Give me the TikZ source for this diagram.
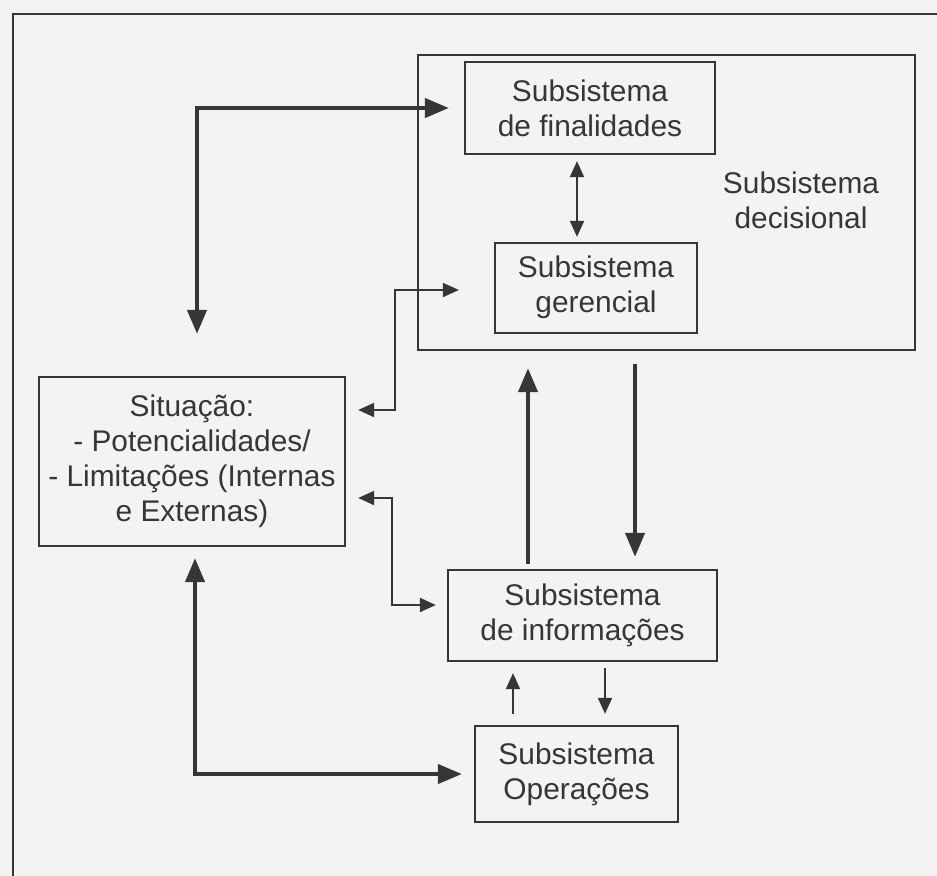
\documentclass[tikz,border=0pt]{standalone}
\usepackage{fontspec}
\setmainfont{Liberation Sans}
\usetikzlibrary{arrows.meta}

\definecolor{paper}{HTML}{F3F3F3}
\definecolor{ink}{HTML}{363636}

\begin{document}
\begin{tikzpicture}[x=0.02cm,y=-0.02cm,
  font=\fontsize{17}{20}\selectfont,
  box/.style={draw=ink,line width=1.3pt,align=center,text=ink,inner sep=0pt},
  bigarrow/.style={draw=ink,line width=2.4pt,{Triangle[length=0.48cm,width=0.38cm]}-{Triangle[length=0.48cm,width=0.38cm]}},
  bigone/.style={draw=ink,line width=2.4pt,-{Triangle[length=0.48cm,width=0.38cm]}},
  smallarrow/.style={draw=ink,line width=1.1pt,{Triangle[length=0.32cm,width=0.28cm]}-{Triangle[length=0.32cm,width=0.28cm]}},
  smallone/.style={draw=ink,line width=1.1pt,-{Triangle[length=0.32cm,width=0.28cm]}}]
\fill[paper] (0,0) rectangle (937,876);
\useasboundingbox (0,0) rectangle (937,876);
% outer frame
\draw[ink,line width=1.3pt] (13,880) -- (13,14) -- (940,14);

% boxes
\node[box,minimum width=497*0.02cm,minimum height=295*0.02cm] (dec) at (666.5,202.5) {};
\node[text=ink,align=center] (declabel) at (801,200) {Subsistema\\decisional};
\node[box,minimum width=250*0.02cm,minimum height=92*0.02cm] (fin) at (590,108) {Subsistema\\de finalidades};
\node[box,minimum width=202*0.02cm,minimum height=90*0.02cm] (ger) at (596,288) {\raisebox{-6pt}{\begin{tabular}{@{}c@{}}Subsistema\\gerencial\end{tabular}}};
\node[box,minimum width=306*0.02cm,minimum height=169*0.02cm] (sit) at (192,461.5) {Situação:\\- Potencialidades/\\- Limitações (Internas\\e Externas)};
\node[box,minimum width=269*0.02cm,minimum height=91*0.02cm] (inf) at (582.5,615.5) {Subsistema\\de informações};
\node[box,minimum width=203*0.02cm,minimum height=96*0.02cm] (ope) at (576.5,774) {Subsistema\\Operações};

% bends
\coordinate (c1) at (197,106);
\coordinate (c2) at (577,0);
\coordinate (k1) at (395,410);
\coordinate (k2) at (392,498);
\coordinate (k3) at (392,605);
\coordinate (c5) at (528,0);
\coordinate (c6) at (635,0);
\coordinate (c7) at (513,0);
\coordinate (c8) at (605,0);
\coordinate (c9) at (195,773);

% connectors
\draw[bigarrow,shorten <=0.84cm,shorten >=0.3cm] (sit.north -| c1) |- (fin.west);
\draw[smallarrow,shorten <=0.12cm,shorten >=0.1cm] (fin.south -| c2) -- (ger.north -| c2);
\draw[smallarrow,shorten <=0.7cm,shorten >=0.24cm] ([yshift=-0.04cm]ger.west) -| (k1) -- (sit.east |- k1);
\draw[smallarrow,shorten <=0.24cm,shorten >=0.22cm] (sit.east |- k2) -- (k2) -- (k3) -- (inf.west |- k3);
\draw[bigone,shorten <=0.1cm,shorten >=0.34cm] (inf.north -| c5) -- (dec.south -| c5);
\draw[bigone,shorten <=0.26cm,shorten >=0.24cm] (dec.south -| c6) -- (inf.north -| c6);
\draw[smallone,shorten <=0.22cm,shorten >=0.22cm] (ope.north -| c7) -- (inf.south -| c7);
\draw[smallone,shorten <=0.12cm,shorten >=0.22cm] (inf.south -| c8) -- (ope.north -| c8);
\draw[bigarrow,shorten <=0.22cm,shorten >=0.24cm] (sit.south -| c9) |- (ope.west);
\end{tikzpicture}
\end{document}
